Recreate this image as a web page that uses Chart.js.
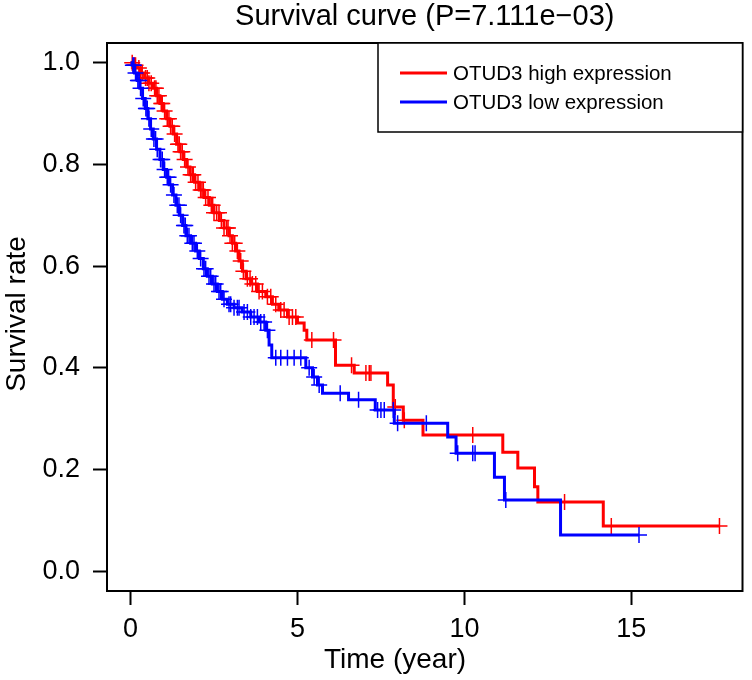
<!DOCTYPE html>
<html>
<head>
<meta charset="utf-8">
<script src="https://cdn.jsdelivr.net/npm/chart.js@4/dist/chart.umd.min.js"></script>
<style>
html, body { margin: 0; padding: 0; background: #fff; }
#wrap { width: 752px; height: 680px; }
</style>
</head>
<body>
<div id="wrap"><canvas id="km" width="752" height="680"></canvas></div>
<script>
// survival curve data (time in years, survival after the drop)
const highTime = [0, 0.10, 0.20, 0.30, 0.42, 0.55, 0.68, 0.78, 0.88, 0.98, 1.08, 1.18, 1.28, 1.38, 1.48, 1.58, 1.68, 1.78, 1.92, 2.06, 2.20, 2.36, 2.50, 2.66, 2.80, 2.95, 3.05, 3.15, 3.25, 3.35, 3.46, 3.60, 3.80, 4.05, 4.25, 4.44, 4.70, 5.00, 5.20, 5.28, 6.14, 6.70, 7.70, 7.87, 8.17, 8.76, 11.15, 11.60, 12.10, 12.20, 14.16, 17.64];
const highSurv = [1, 0.995, 0.99, 0.98, 0.97, 0.96, 0.95, 0.935, 0.92, 0.905, 0.89, 0.875, 0.86, 0.84, 0.825, 0.81, 0.795, 0.78, 0.765, 0.75, 0.735, 0.72, 0.705, 0.69, 0.675, 0.66, 0.645, 0.63, 0.61, 0.59, 0.575, 0.565, 0.55, 0.54, 0.525, 0.514, 0.50, 0.488, 0.474, 0.455, 0.405, 0.39, 0.366, 0.323, 0.297, 0.268, 0.234, 0.203, 0.166, 0.136, 0.089, 0.089];
const highCensor = [0.05, 0.12, 0.15, 0.25, 0.3, 0.35, 0.45, 0.5, 0.55, 0.62, 0.72, 0.76, 0.8, 0.85, 0.92, 0.95, 1.02, 1.1, 1.15, 1.2, 1.25, 1.32, 1.42, 1.46, 1.5, 1.55, 1.62, 1.72, 1.8, 1.85, 1.88, 1.95, 2.02, 2.1, 2.14, 2.18, 2.25, 2.32, 2.42, 2.46, 2.5, 2.58, 2.65, 2.72, 2.8, 2.88, 2.92, 2.98, 3.05, 3.12, 3.2, 3.3, 3.38, 3.5, 3.58, 3.65, 3.75, 3.85, 3.95, 4.1, 4.2, 4.35, 4.5, 4.6, 4.75, 4.85, 4.95, 5.43, 6.08, 6.62, 7.05, 7.15, 7.2, 7.93, 8.2, 10.25, 13.0, 14.4, 17.64];

const lowTime = [0, 0.05, 0.12, 0.20, 0.28, 0.36, 0.44, 0.52, 0.60, 0.68, 0.78, 0.88, 0.98, 1.08, 1.16, 1.26, 1.36, 1.46, 1.56, 1.66, 1.80, 1.95, 2.06, 2.18, 2.30, 2.45, 2.60, 2.75, 2.90, 3.10, 3.34, 3.60, 3.85, 4.05, 4.15, 4.23, 5.25, 5.45, 5.60, 5.75, 6.53, 7.33, 7.90, 9.50, 9.75, 10.90, 11.20, 12.88, 15.23];
const lowSurv = [1, 0.995, 0.98, 0.965, 0.95, 0.93, 0.91, 0.89, 0.87, 0.85, 0.83, 0.81, 0.79, 0.775, 0.76, 0.74, 0.72, 0.70, 0.68, 0.66, 0.645, 0.63, 0.615, 0.595, 0.58, 0.565, 0.55, 0.535, 0.525, 0.518, 0.51, 0.50, 0.49, 0.474, 0.445, 0.42, 0.40, 0.382, 0.366, 0.35, 0.337, 0.317, 0.291, 0.264, 0.232, 0.185, 0.14, 0.071, 0.071];
const lowCensor = [0.07, 0.1, 0.15, 0.22, 0.26, 0.3, 0.38, 0.46, 0.5, 0.55, 0.62, 0.7, 0.75, 0.8, 0.9, 0.95, 1.02, 1.1, 1.14, 1.2, 1.3, 1.4, 1.45, 1.5, 1.6, 1.64, 1.7, 1.75, 1.85, 1.9, 2.0, 2.1, 2.2, 2.25, 2.35, 2.4, 2.5, 2.55, 2.65, 2.7, 2.8, 2.95, 3.0, 3.1, 3.2, 3.25, 3.4, 3.5, 3.6, 3.7, 3.8, 3.9, 4.0, 4.1, 4.35, 4.5, 4.7, 4.9, 5.1, 5.35, 5.5, 5.65, 6.28, 6.83, 7.4, 7.5, 7.6, 7.87, 8.0, 8.86, 9.8, 10.25, 10.32, 11.24, 15.23];

const xTicks = [0, 5, 10, 15];
const yTicks = [0, 0.2, 0.4, 0.6, 0.8, 1.0];
const seriesNames = ['OTUD3 high expression', 'OTUD3 low expression'];
const chartTitle = 'Survival curve (P=7.111e\u221203)';
const xTitle = 'Time (year)';
const yTitle = 'Survival rate';

const FONT = '"Liberation Sans", Arial, Helvetica, sans-serif';

// level of the step curve at time t
function levelAt(times, surv, t) {
    let s = surv[0];
    for (let i = 0; i < times.length; i++) {
        if (times[i] <= t) s = surv[i];
    }
    return s;
}

function steps(times, surv) {
    return times.map((t, i) => ({ x: t, y: surv[i] }));
}

function censors(list, times, surv) {
    return list.map(t => ({ x: t, y: levelAt(times, surv, t) }));
}

const frame = {
    id: 'frame',
    afterDraw(chart) {
        const ctx = chart.ctx;
        const a = chart.chartArea;
        ctx.save();
        ctx.strokeStyle = '#000';
        ctx.lineWidth = 2;
        ctx.strokeRect(a.left, a.top, a.right - a.left, a.bottom - a.top);

        ctx.fillStyle = '#000';
        ctx.textAlign = 'center';
        ctx.textBaseline = 'middle';

        // title
        ctx.font = '29px ' + FONT;
        ctx.fillText(chartTitle, (a.left + a.right) / 2, 17);

        // axis titles
        ctx.font = '28px ' + FONT;
        ctx.fillText(xTitle, 395, 660);
        ctx.save();
        ctx.translate(17, 314);
        ctx.rotate(-Math.PI / 2);
        ctx.fillText(yTitle, 0, 0);
        ctx.restore();

        // legend box, top right
        const bx = 378, by = a.top, bw = a.right - 378, bh = 89;
        ctx.fillStyle = '#fff';
        ctx.fillRect(bx, by, bw, bh);
        ctx.lineWidth = 1.5;
        ctx.strokeStyle = '#000';
        ctx.strokeRect(bx, by, bw, bh);
        const cols = ['#ff0000', '#0000ff'];
        ctx.font = '20.5px ' + FONT;
        ctx.textAlign = 'left';
        seriesNames.forEach((name, i) => {
            const y = by + 30 + i * 29;
            ctx.strokeStyle = cols[i];
            ctx.lineWidth = 3;
            ctx.beginPath();
            ctx.moveTo(400, y);
            ctx.lineTo(447, y);
            ctx.stroke();
            ctx.fillStyle = '#000';
            ctx.fillText(name, 453, y + 1);
        });
        ctx.restore();
    }
};

new Chart(document.getElementById('km'), {
    type: 'scatter',
    data: {
        datasets: [
            {
                label: seriesNames[1],
                data: steps(lowTime, lowSurv),
                showLine: true,
                stepped: true,
                borderColor: '#0000ff',
                borderWidth: 3,
                pointRadius: 0,
                order: 0
            },
            {
                label: seriesNames[1] + ' censored',
                data: censors(lowCensor, lowTime, lowSurv),
                pointStyle: 'cross',
                pointRadius: 8,
                borderColor: '#0000ff',
                borderWidth: 1.5,
                order: 1
            },
            {
                label: seriesNames[0] + ' censored',
                data: censors(highCensor, highTime, highSurv),
                pointStyle: 'cross',
                pointRadius: 8,
                borderColor: '#ff0000',
                borderWidth: 1.5,
                order: 2
            },
            {
                label: seriesNames[0],
                data: steps(highTime, highSurv),
                showLine: true,
                stepped: true,
                borderColor: '#ff0000',
                borderWidth: 3,
                pointRadius: 0,
                order: 3
            }
        ]
    },
    options: {
        responsive: false,
        animation: false,
        devicePixelRatio: 1,
        layout: { padding: { top: 43, right: 6, left: 0, bottom: 0 } },
        plugins: {
            legend: { display: false },
            tooltip: { enabled: false }
        },
        scales: {
            x: {
                type: 'linear',
                min: -0.705,
                max: 18.33,
                afterBuildTicks: s => { s.ticks = xTicks.map(v => ({ value: v })); },
                afterFit: s => { s.height = 89; },
                grid: { drawOnChartArea: false, drawTicks: true, tickLength: 14, tickWidth: 2, tickColor: '#000' },
                border: { display: false },
                ticks: { color: '#000', font: { family: FONT, size: 27 }, padding: 8, maxRotation: 0 }
            },
            y: {
                type: 'linear',
                min: -0.039,
                max: 1.039,
                afterBuildTicks: s => { s.ticks = yTicks.map(v => ({ value: v })); },
                afterFit: s => { s.width = 107; },
                grid: { drawOnChartArea: false, drawTicks: true, tickLength: 14, tickWidth: 2, tickColor: '#000' },
                border: { display: false },
                ticks: { color: '#000', font: { family: FONT, size: 27 }, padding: 13, callback: v => v.toFixed(1) }
            }
        }
    },
    plugins: [frame]
});
</script>
</body>
</html>
